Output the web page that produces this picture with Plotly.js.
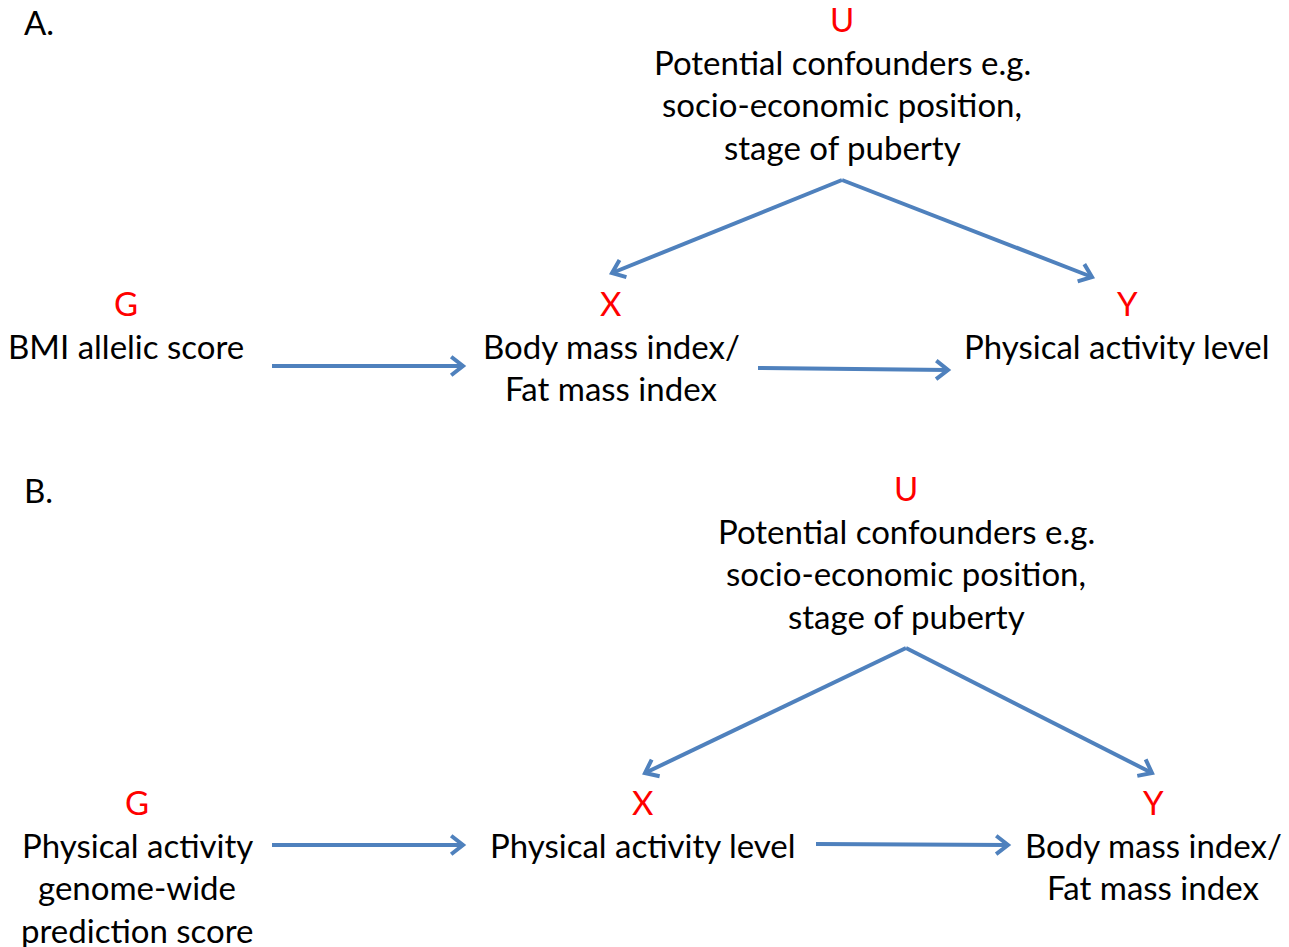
<!DOCTYPE html>
<html>
<head>
<meta charset="utf-8">
<script src="https://cdn.plot.ly/plotly-3.0.1.min.js"></script>
<style>html,body{margin:0;padding:0;background:#fff;}#chart{width:1289px;height:947px;}</style>
</head>
<body>
<div id="chart"></div>
<script>
// Panel labels
const panelLabels = ["A.", "B."];
const panelX = [22, 22];
const panelY = [25, 493];

// Nodes (red variable letters + black descriptions)
const nodeLetters = ["U", "G", "X", "Y", "U", "G", "X", "Y"];
const letterX = [842, 126, 611, 1127, 906, 137, 643, 1153];
const letterY = [22, 306, 306, 306, 491, 805, 805, 805];
const textX = [842, 126, 611, 1117, 906, 137, 643, 1153];
const nodeLines = [
  ["Potential confounders e.g.", "socio-economic position,", "stage of puberty"],
  ["BMI allelic score"],
  ["Body mass index/", "Fat mass index"],
  ["Physical activity level"],
  ["Potential confounders e.g.", "socio-economic position,", "stage of puberty"],
  ["Physical activity", "genome-wide", "prediction score"],
  ["Physical activity level"],
  ["Body mass index/", "Fat mass index"]
];

// Arrows (start -> end)
const arrowX0 = [272, 758, 842, 842, 272, 816, 906, 906];
const arrowY0 = [366, 368, 180, 180, 845, 844, 648, 648];
const arrowX1 = [463, 948, 612, 1092, 463, 1008, 645, 1152];
const arrowY1 = [366, 370, 273, 277, 845, 845, 773, 773];

const FONT = "Lato, 'Open Sans', sans-serif";
const FS = 33;
const LINE_GAP = 42.5;
const ARROW_COLOR = "#4F81BD";
const TEXT_SHIFT = 3;

const annotations = [];
panelLabels.forEach((t, i) => {
  annotations.push({x: panelX[i], y: panelY[i], xref: "x", yref: "y", text: t, showarrow: false, yshift: TEXT_SHIFT,
    xanchor: "left", yanchor: "middle", font: {family: FONT, size: FS, color: "#000"}});
});
nodeLetters.forEach((t, i) => {
  annotations.push({x: letterX[i], y: letterY[i], xref: "x", yref: "y", text: t, showarrow: false, yshift: TEXT_SHIFT,
    xanchor: "center", yanchor: "middle", font: {family: FONT, size: FS, color: "#FF0000"}});
  nodeLines[i].forEach((line, j) => {
    annotations.push({x: textX[i], y: letterY[i] + LINE_GAP * (j + 1), xref: "x", yref: "y", text: line,
      showarrow: false, yshift: TEXT_SHIFT, xanchor: "center", yanchor: "middle", font: {family: FONT, size: FS, color: "#000"}});
  });
});

const traces = [];
const HEAD = 15, ANG = 38 * Math.PI / 180;
arrowX0.forEach((x0, i) => {
  const y0 = arrowY0[i], x1 = arrowX1[i], y1 = arrowY1[i];
  const a = Math.atan2(y1 - y0, x1 - x0);
  const hx1 = x1 - HEAD * Math.cos(a - ANG), hy1 = y1 - HEAD * Math.sin(a - ANG);
  const hx2 = x1 - HEAD * Math.cos(a + ANG), hy2 = y1 - HEAD * Math.sin(a + ANG);
  traces.push({type: "scatter", mode: "lines", hoverinfo: "skip", showlegend: false,
    x: [x0, x1, null, hx1, x1, hx2], y: [y0, y1, null, hy1, y1, hy2],
    line: {color: ARROW_COLOR, width: 4}});
});

const layout = {
  width: 1289, height: 947,
  margin: {l: 0, r: 0, t: 0, b: 0},
  paper_bgcolor: "#fff", plot_bgcolor: "#fff",
  xaxis: {range: [0, 1289], visible: false, fixedrange: true},
  yaxis: {range: [947, 0], visible: false, fixedrange: true},
  annotations: annotations,
  showlegend: false
};
Plotly.newPlot("chart", traces, layout, {displayModeBar: false, staticPlot: true});
</script>
</body>
</html>
